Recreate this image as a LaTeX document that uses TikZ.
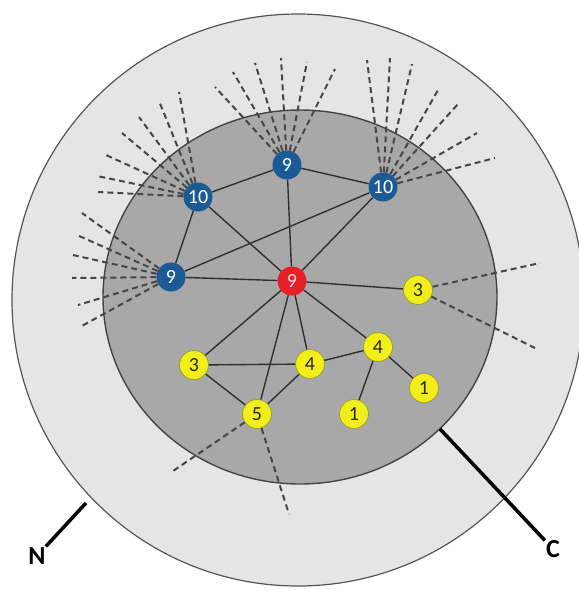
\documentclass[tikz,border=0pt]{standalone}
\usepackage{fontspec}
\setmainfont{Carlito}
\usetikzlibrary{positioning}
\definecolor{ringbg}{HTML}{E5E5E5}
\definecolor{corebg}{HTML}{A8A8A8}
\definecolor{rimgray}{HTML}{555555}
\definecolor{hubblue}{HTML}{1B5A94}
\definecolor{hubred}{HTML}{E81F27}
\definecolor{leafyel}{HTML}{F2EE1A}
\definecolor{leafrim}{HTML}{9AA03A}
\definecolor{edgegray}{HTML}{303030}
\definecolor{dashgray}{HTML}{464646}

\begin{document}
\begin{tikzpicture}[x=1pt, y=-1pt,
  vtx/.style={circle, inner sep=0pt, minimum size=29pt, font=\fontsize{20}{22}\selectfont},
  hubnode/.style={vtx, fill=hubblue, text=white},
  centrenode/.style={vtx, fill=hubred, text=white!85!red},
  leafnode/.style={vtx, fill=leafyel, draw=leafrim, line width=0.8pt, text=black!85},
  link/.style={edgegray, line width=1.4pt},
  spoke/.style={dashgray, line width=2pt, dash pattern=on 6pt off 4pt},
  tag/.style={inner sep=1pt, font=\fontsize{26}{28}\selectfont\bfseries}]
  \useasboundingbox (0,0) rectangle (579,590);
  \clip (0,0) rectangle (579,590);
  \fill[white] (0,0) rectangle (579,590);

  \filldraw[fill=ringbg, draw=rimgray, line width=1.2pt] (298,300) circle[radius=286];
  \filldraw[fill=corebg, draw=rimgray!80!black, line width=1.4pt] (300,297) ellipse[x radius=197, y radius=187];

  \node[hubnode] (h10a) at (198,197) {10};
  \node[hubnode] (h9a) at (287,165) {9};
  \node[hubnode] (h10b) at (383,187) {10};
  \node[hubnode] (h9b) at (171,277) {9};
  \node[centrenode] (c9) at (292,281) {9};
  \node[leafnode] (l3a) at (418,290) {3};
  \node[leafnode] (l4a) at (378,347) {4};
  \node[leafnode] (l4b) at (310,364) {4};
  \node[leafnode] (l1a) at (424,388) {1};
  \node[leafnode] (l1b) at (354,414) {1};
  \node[leafnode] (l3b) at (194,365) {3};
  \node[leafnode] (l5) at (257,414) {5};

  \foreach \a/\b in {h10a/h9a, h9a/h10b, h10a/h9b, h9b/h10b, h10a/c9, h9a/c9, h10b/c9,
                     h9b/c9, c9/l3a, c9/l4a, c9/l4b, c9/l5, c9/l3b, l3b/l4b, l3b/l5,
                     l4b/l5, l4b/l4a, l4a/l1a, l4a/l1b}
    \draw[link] (\a) -- (\b);

  \foreach \src/\px/\py [count=\i] in {
      h10a/179/92, h10a/159/101, h10a/139/117, h10a/122/133, h10a/106/155, h10a/97/176, h10a/98/192,
      h9a/215/87, h9a/233/72, h9a/255/63, h9a/281/58, h9a/307/62, h9a/335/69,
      h10b/367/60, h10b/390/58, h10b/412/64, h10b/438/90, h10b/458/104, h10b/477/133, h10b/495/158,
      h9b/82/213, h9b/77/235, h9b/73/255, h9b/72/278, h9b/78/305, h9b/80/327,
      l3a/540/263, l3a/535/348, l5/173/471, l5/289/514}
  {
    \coordinate (e\i) at (\px,\py);
    \draw[spoke] (\src) -- (e\i);
  }

  \coordinate (nrim) at (86,503);
  \node[tag] (nlab) at (37,556) {N};
  \draw[black, line width=3.5pt] (nrim) -- (nlab);
  \coordinate (crim) at (440,429);
  \node[tag] (clab) at (553,549) {C};
  \draw[black, line width=3.5pt] (crim) -- (clab);
\end{tikzpicture}
\end{document}
